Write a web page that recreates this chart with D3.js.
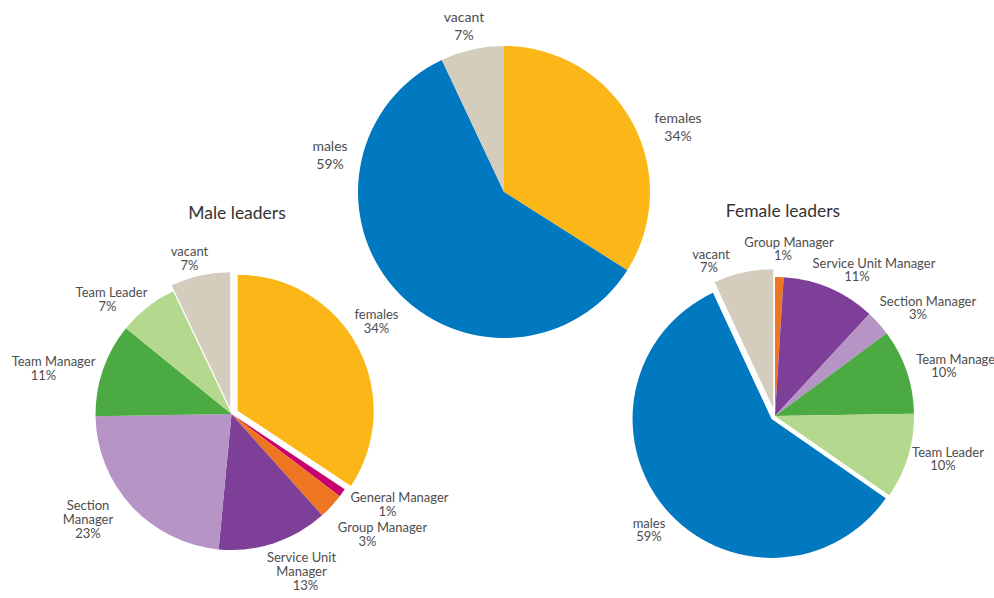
<!DOCTYPE html>
<html>
<head>
<meta charset="utf-8">
<script src="https://cdn.jsdelivr.net/npm/d3@7"></script>
<style>
  html, body { margin: 0; padding: 0; background: #fff; }
  svg { display: block; }
  text { font-family: Lato, "Open Sans", sans-serif; fill: #4d4d4d; }
</style>
</head>
<body>
<svg id="chart" width="994" height="598"></svg>
<script>
// Overall positions
const overallCategories = ["females", "males", "vacant"];
const overallValues = [34, 59, 7];

// Male leaders broken down by level
const maleCategories = ["females", "General Manager", "Group Manager", "Service Unit Manager",
                        "Section Manager", "Team Manager", "Team Leader", "vacant"];
const maleValues = [34, 1, 3, 13, 23, 11, 7, 7];

// Female leaders broken down by level
const femaleCategories = ["Group Manager", "Service Unit Manager", "Section Manager",
                          "Team Manager", "Team Leader", "males", "vacant"];
const femaleValues = [1, 11, 3, 10, 10, 59, 7];

const titles = ["Male leaders", "Female leaders"];

const colors = {
  "females": "#fbb617",
  "males": "#0079c1",
  "vacant": "#d4cdbd",
  "General Manager": "#c8006e",
  "Group Manager": "#ee7623",
  "Service Unit Manager": "#7d3f98",
  "Section Manager": "#b694c6",
  "Team Manager": "#4caa42",
  "Team Leader": "#b4d88d"
};

const svg = d3.select("#chart");

// Each pie: centre, radius, exploded slices, label placement relative to centre
const pies = [
  {
    cats: overallCategories, vals: overallValues,
    cx: 504, cy: 192, r: 146, fs: 14, lh: 18.5,
    explode: {},
    labels: {
      "vacant":  { dx: -40, dy: -175 },
      "females": { dx: 174, dy: -74 },
      "males":   { dx: -174, dy: -46 }
    }
  },
  {
    cats: maleCategories, vals: maleValues,
    cx: 231.5, cy: 414, r: 136, fs: 13, lh: 14,
    title: titles[0], tx: 237, ty: 213,
    explode: { "females": 7, "vacant": 6 },
    labels: {
      "vacant":               { dx: -42, dy: -163 },
      "Team Leader":          { dx: -120, dy: -122, pdx: -4 },
      "Team Manager":         { dx: -178, dy: -53, pdx: -10 },
      "females":              { dx: 145, dy: -100 },
      "General Manager":      { dx: 168, dy: 83, pdx: -12 },
      "Group Manager":        { dx: 151, dy: 113, pdx: -15 },
      "Service Unit Manager": { dx: 70, dy: 143, wrap: true, pdx: 4 },
      "Section Manager":      { dx: -143.5, dy: 91, wrap: true }
    }
  },
  {
    cats: femaleCategories, vals: femaleValues,
    cx: 775, cy: 416, r: 139, fs: 13, lh: 13.5,
    title: titles[1], tx: 783, ty: 211,
    explode: { "males": 4.5, "vacant": 8 },
    labels: {
      "Group Manager":        { dx: 14, dy: -174, pdx: -6 },
      "vacant":               { dx: -64, dy: -162, pdx: -2 },
      "Service Unit Manager": { dx: 99, dy: -153, pdx: -17 },
      "Section Manager":      { dx: 153, dy: -115, pdx: -10 },
      "Team Manager":         { dx: 183, dy: -57, pdx: -14 },
      "Team Leader":          { dx: 173, dy: 36, pdx: -5 },
      "males":                { dx: -126, dy: 107 }
    }
  }
];

pies.forEach(p => {
  const data = p.cats.map((c, i) => ({ cat: c, value: p.vals[i] }));
  const arcs = d3.pie().sort(null).value(d => d.value)(data);
  const arc = d3.arc().innerRadius(0).outerRadius(p.r);
  const g = svg.append("g").attr("transform", `translate(${p.cx},${p.cy})`);

  g.selectAll("path")
    .data(arcs)
    .join("path")
    .attr("d", arc)
    .attr("fill", d => colors[d.data.cat])
    .attr("transform", d => {
      const off = p.explode[d.data.cat] || 0;
      const a = (d.startAngle + d.endAngle) / 2;
      return `translate(${off * Math.sin(a)},${-off * Math.cos(a)})`;
    });

  // Category name plus share
  arcs.forEach(d => {
    const L = p.labels[d.data.cat];
    if (!L) return;
    let lines = [d.data.cat];
    if (L.wrap) {
      const k = d.data.cat.lastIndexOf(" ");
      lines = [d.data.cat.slice(0, k), d.data.cat.slice(k + 1)];
    }
    const pct = d.data.value + "%";
    const t = g.append("text")
      .attr("text-anchor", "middle")
      .attr("font-size", p.fs);
    lines.forEach((s, i) => {
      t.append("tspan").attr("x", L.dx).attr("y", L.dy + i * p.lh).attr("dy", "0.35em").text(s);
    });
    t.append("tspan").attr("x", L.dx + (L.pdx || 0)).attr("y", L.dy + lines.length * p.lh)
      .attr("dy", "0.35em").text(pct);
  });

  if (p.title) {
    svg.append("text")
      .attr("x", p.tx).attr("y", p.ty).attr("dy", "0.35em")
      .attr("text-anchor", "middle")
      .attr("font-size", 17.5)
      .style("fill", "#333")
      .text(p.title);
  }
});
</script>
</body>
</html>
